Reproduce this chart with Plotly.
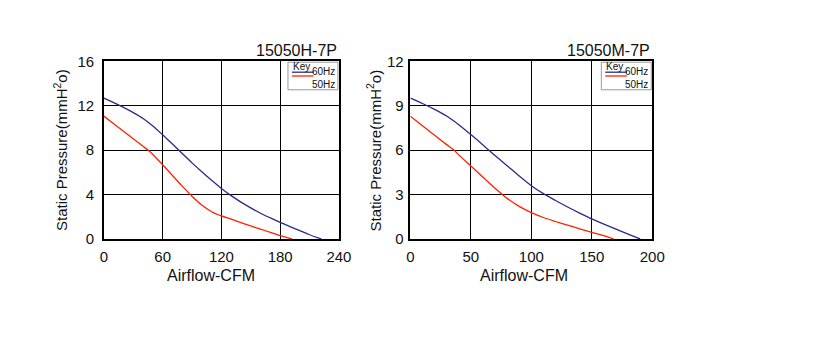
import plotly.graph_objects as go

# Left chart: 15050H-7P
h_x60 = [0, 10, 20, 30, 40, 50, 60, 70, 80, 90, 100, 110, 120, 130, 140, 150, 160, 170, 180, 190, 200, 210, 222]
h_y60 = [12.68, 12.28, 11.85, 11.38, 10.85, 10.18, 9.38, 8.55, 7.7, 6.85, 6.05, 5.28, 4.55, 3.9, 3.32, 2.8, 2.32, 1.9, 1.5, 1.12, 0.75, 0.38, 0.0]
h_x50 = [0, 10, 20, 30, 40, 45, 50, 60, 70, 80, 90, 100, 110, 120, 130, 140, 150, 160, 170, 180, 192]
h_y50 = [11.06, 10.38, 9.7, 9.02, 8.34, 8.0, 7.6, 6.68, 5.72, 4.76, 3.85, 3.05, 2.45, 2.07, 1.78, 1.48, 1.17, 0.88, 0.6, 0.3, 0.0]

# Right chart: 15050M-7P
m_x60 = [0, 10, 20, 30, 40, 50, 60, 70, 80, 90, 100, 110, 120, 130, 140, 150, 160, 170, 180, 190]
m_y60 = [9.51, 9.15, 8.75, 8.3, 7.72, 7.05, 6.35, 5.63, 4.94, 4.26, 3.6, 3.06, 2.6, 2.16, 1.75, 1.36, 1.0, 0.66, 0.33, 0.0]
m_x50 = [0, 10, 20, 30, 36, 40, 50, 60, 70, 76, 80, 90, 100, 110, 120, 130, 140, 150, 160, 168]
m_y50 = [8.29, 7.65, 7.01, 6.37, 6.0, 5.68, 4.93, 4.17, 3.42, 3.0, 2.74, 2.2, 1.78, 1.45, 1.18, 0.93, 0.69, 0.45, 0.22, 0.0]

titles = ["15050H-7P", "15050M-7P"]
x_ticks_h = [0, 60, 120, 180, 240]
y_ticks_h = [0, 4, 8, 12, 16]
x_ticks_m = [0, 50, 100, 150, 200]
y_ticks_m = [0, 3, 6, 9, 12]
legend_title = "Key"
legend_labels = ["60Hz", "50Hz"]

BLUE = "#2b2b8c"
RED = "#ff2200"
FONT = "Liberation Sans, Arial, sans-serif"
TXT = "#111"

W, H = 819, 342
fig = go.Figure()

line_kw = dict(width=1.3, shape="spline", smoothing=0.8)
fig.add_trace(go.Scatter(x=h_x60, y=h_y60, mode="lines", line=dict(color=BLUE, **line_kw), xaxis="x", yaxis="y", showlegend=False))
fig.add_trace(go.Scatter(x=h_x50, y=h_y50, mode="lines", line=dict(color=RED, **line_kw), xaxis="x", yaxis="y", showlegend=False))
fig.add_trace(go.Scatter(x=m_x60, y=m_y60, mode="lines", line=dict(color=BLUE, **line_kw), xaxis="x2", yaxis="y2", showlegend=False))
fig.add_trace(go.Scatter(x=m_x50, y=m_y50, mode="lines", line=dict(color=RED, **line_kw), xaxis="x2", yaxis="y2", showlegend=False))


def px_x(p):
    return p / W


def px_y(p):
    return 1 - p / H


ydom = [px_y(242), px_y(55)]
axcommon = dict(showgrid=True, gridcolor="#000", gridwidth=1.3, showline=True, linecolor="#000", linewidth=1.6,
                mirror=True, zeroline=False, ticks="", tickfont=dict(family=FONT, size=15, color=TXT))

fig.update_layout(
    width=W, height=H, margin=dict(l=0, r=0, t=0, b=0), autosize=False,
    paper_bgcolor="white", plot_bgcolor="white",
    xaxis=dict(domain=[px_x(102), px_x(342)], range=[0, 240], tickvals=x_ticks_h, anchor="y",
               ticklabelstandoff=3, **axcommon),
    yaxis=dict(domain=ydom, range=[0, 16], tickvals=y_ticks_h, anchor="x", ticklabelstandoff=5, **axcommon),
    xaxis2=dict(domain=[px_x(415), px_x(662)], range=[0, 200], tickvals=x_ticks_m, anchor="y2",
                ticklabelstandoff=3, **axcommon),
    yaxis2=dict(domain=ydom, range=[0, 12], tickvals=y_ticks_m, anchor="x2", ticklabelstandoff=2, **axcommon),
)

annotations = []
shapes = []
plot_w = [240, 247]
ytitle_shift = [-44, -37]
xtitle_pos = [0.454, 0.47]
for i, (xr, yr) in enumerate([("x", "y"), ("x2", "y2")]):
    xd = xr + " domain"
    yd = yr + " domain"
    pw = plot_w[i]
    annotations.append(dict(text=titles[i], xref=xd, yref=yd, x=1.0, y=1.0, xanchor="right", yanchor="bottom",
                            yshift=0, showarrow=False, font=dict(family=FONT, size=16, color=TXT)))
    annotations.append(dict(text="Airflow-CFM", xref=xd, yref="paper", x=xtitle_pos[i], y=px_y(280),
                            xanchor="center", yanchor="middle",
                            showarrow=False, font=dict(family=FONT, size=16, color=TXT)))
    annotations.append(dict(text="Static Pressure(mmH<sup>2</sup>o)", xref=xd, yref=yd, x=0, y=0.5,
                            xshift=ytitle_shift[i], xanchor="center", yanchor="middle", textangle=-90,
                            showarrow=False, font=dict(family=FONT, size=15, color=TXT)))
    x0 = 1 - 52 / pw
    x1 = 1.0
    shapes.append(dict(type="rect", xref=xd, yref=yd, x0=x0, x1=x1 - 1 / pw, y0=(242 - 85) / 187, y1=(242 - 56) / 187,
                       line=dict(color="#999", width=1), fillcolor="white", layer="above"))
    annotations.append(dict(text=legend_title, xref=xd, yref=yd, x=x0 + 3 / pw, y=(242 - 60) / 187,
                            xanchor="left", yanchor="middle",
                            showarrow=False, font=dict(family=FONT, size=10, color=TXT)))
    shapes.append(dict(type="line", xref=xd, yref=yd, x0=x0 + 4 / pw, x1=x0 + 26 / pw,
                       y0=(242 - 66.5) / 187, y1=(242 - 66.5) / 187,
                       line=dict(color=BLUE, width=1.3), layer="above"))
    shapes.append(dict(type="line", xref=xd, yref=yd, x0=x0 + 4 / pw, x1=x0 + 26 / pw,
                       y0=(242 - 70.5) / 187, y1=(242 - 70.5) / 187,
                       line=dict(color=RED, width=1.3), layer="above"))
    annotations.append(dict(text="<br>".join(legend_labels), xref=xd, yref=yd, x=1 - 2 / pw, y=(242 - 73) / 187,
                            xanchor="right", yanchor="middle", align="right",
                            showarrow=False, font=dict(family=FONT, size=10, color=TXT)))

fig.update_layout(annotations=annotations, shapes=shapes)
fig.write_html("out.html", config={"responsive": False},
               post_script="document.body.style.margin='0';document.body.style.overflow='hidden';")
